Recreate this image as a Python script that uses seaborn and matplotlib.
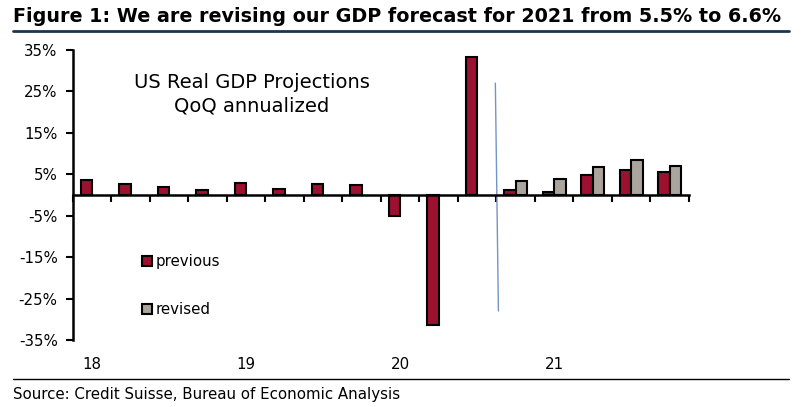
import numpy as np
import pandas as pd
import matplotlib
matplotlib.use("Agg")
import matplotlib.pyplot as plt
import matplotlib.transforms as mtransforms
from matplotlib.patches import Patch
import seaborn as sns

quarters = ["18Q1", "18Q2", "18Q3", "18Q4", "19Q1", "19Q2", "19Q3", "19Q4",
            "20Q1", "20Q2", "20Q3", "20Q4", "21Q1", "21Q2", "21Q3", "21Q4"]
previous = [3.6, 2.7, 2.0, 1.2, 2.9, 1.5, 2.6, 2.4,
            -5.0, -31.4, 33.4, 1.2, 0.7, 4.8, 6.0, 5.6]
revised = [np.nan] * 11 + [3.3, 3.8, 6.8, 8.5, 7.0]
year_labels = ["18", "19", "20", "21"]
year_first_quarter = [0, 4, 8, 12]
yticks = [35, 25, 15, 5, -5, -15, -25, -35]

# forecast divider drawn as in the original (slightly tilted)
vline_x = [10.47, 10.55]
vline_y = [27, -28]

red = "#9c1030"
grey = "#aaa49c"

df = pd.DataFrame({"quarter": quarters * 2,
                   "series": ["previous"] * 16 + ["revised"] * 16,
                   "value": previous + revised})

sns.set_style("white", {"text.color": "black", "axes.edgecolor": "black",
                        "xtick.color": "black", "ytick.color": "black",
                        "axes.labelcolor": "black"})
plt.rcParams["font.family"] = ["DejaVu Sans"]

fig = plt.figure(figsize=(8.04, 4.07), dpi=100)
ax = fig.add_axes([73 / 804, 67 / 407, 616 / 804, 290 / 407])

sns.barplot(data=df, x="quarter", y="value", hue="series", order=quarters,
            hue_order=["previous", "revised"], palette=[red, grey],
            saturation=1, width=0.6, edgecolor="black", linewidth=1.5,
            ax=ax, legend=False)

ax.set_xlim(-0.5, 15.5)
ax.set_ylim(-35, 35)
ax.set_xlabel("")
ax.set_ylabel("")

ax.set_yticks(yticks)
ax.set_yticklabels([f"{v}%" for v in yticks], fontsize=10.8)
ax.tick_params(axis="y", direction="out", length=5, width=1.5, pad=6,
               left=True, colors="black")

# zero line as the bottom spine with quarter boundary ticks
ax.spines["bottom"].set_position(("data", 0))
ax.spines["bottom"].set_linewidth(1.8)
ax.spines["left"].set_linewidth(1.8)
ax.spines["top"].set_visible(False)
ax.spines["right"].set_visible(False)
ax.set_xticks(np.arange(-0.5, 16, 1))
ax.set_xticklabels([])
ax.tick_params(axis="x", direction="out", length=5, width=1.5, bottom=True)

trans = mtransforms.blended_transform_factory(ax.transData, ax.transAxes)
for lab, q in zip(year_labels, year_first_quarter):
    ax.text(q, -0.083, lab, transform=trans, ha="center", va="center",
            fontsize=10.8, color="black")

ax.plot(vline_x, vline_y, color="#7394c4", linewidth=1)

ax.text(0.29, 0.847, "US Real GDP Projections\nQoQ annualized",
        transform=ax.transAxes, ha="center", va="center", fontsize=14,
        linespacing=1.35, color="black")

handles = [Patch(facecolor=red, edgecolor="black", linewidth=1.5),
           Patch(facecolor=grey, edgecolor="black", linewidth=1.5)]
ax.legend(handles, ["previous", "revised"], loc="upper left",
          bbox_to_anchor=(0.112, 0.295), frameon=False, fontsize=10.8,
          handlelength=0.65, handleheight=0.65, handletextpad=0.25,
          labelspacing=2.2, borderpad=0, borderaxespad=0,
          labelcolor="black")

fig.text(13 / 804, 1 - 17 / 407,
         "Figure 1: We are revising our GDP forecast for 2021 from 5.5% to 6.6%",
         ha="left", va="center", fontsize=13.75, fontweight="bold",
         color="black")
fig.add_artist(plt.Line2D([13 / 804, 789 / 804], [1 - 31 / 407, 1 - 31 / 407],
                          color="#1c3553", linewidth=2))
fig.add_artist(plt.Line2D([13 / 804, 789 / 804], [1 - 379 / 407, 1 - 379 / 407],
                          color="black", linewidth=1))
fig.text(13 / 804, 1 - 395 / 407,
         "Source: Credit Suisse, Bureau of Economic Analysis",
         ha="left", va="center", fontsize=10.8, color="black")

fig.savefig("out.png", dpi=100)
